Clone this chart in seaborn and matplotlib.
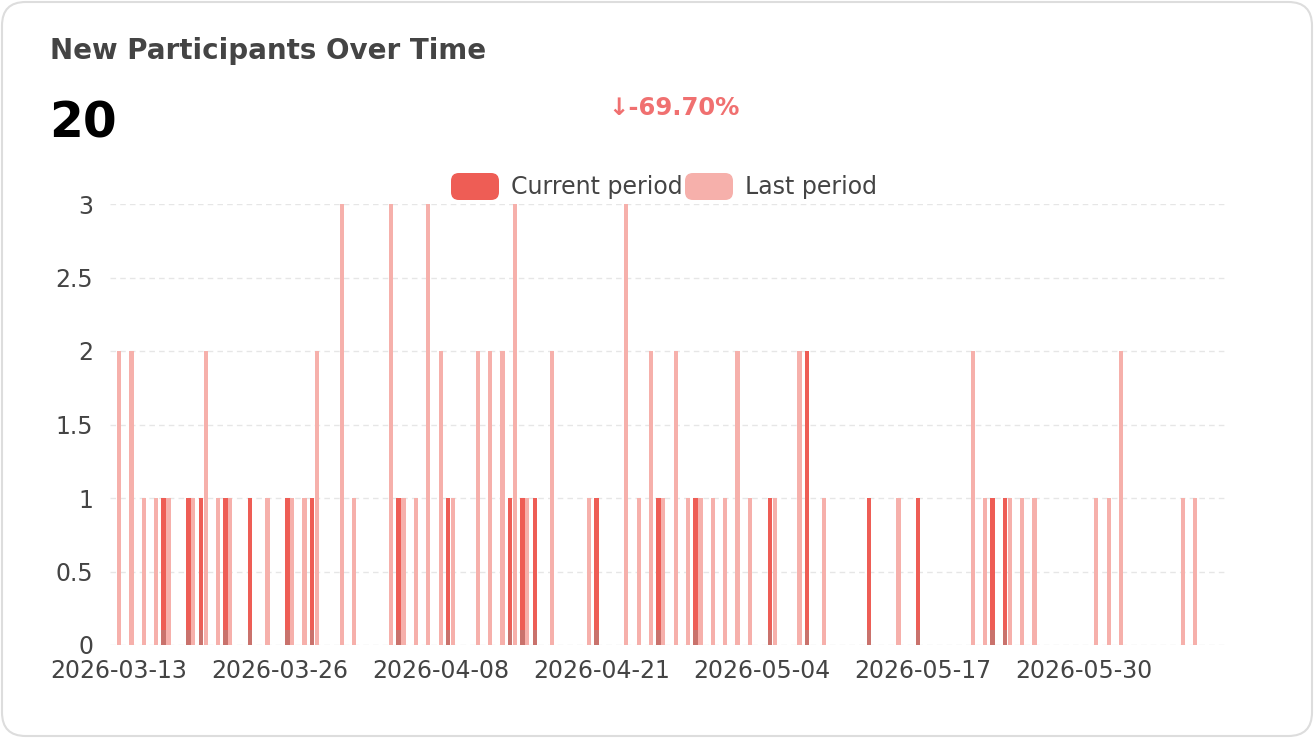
import pandas as pd
import matplotlib.pyplot as plt
import seaborn as sns
from matplotlib.patches import FancyBboxPatch

# Last period: daily counts
last_dates = ['2026-03-13', '2026-03-14', '2026-03-15', '2026-03-16', '2026-03-17', '2026-03-19',
              '2026-03-20', '2026-03-21', '2026-03-22', '2026-03-25', '2026-03-27', '2026-03-28',
              '2026-03-29', '2026-03-31', '2026-04-01', '2026-04-04', '2026-04-05', '2026-04-06',
              '2026-04-07', '2026-04-08', '2026-04-09', '2026-04-11', '2026-04-12', '2026-04-13',
              '2026-04-14', '2026-04-15', '2026-04-17', '2026-04-20', '2026-04-23', '2026-04-24',
              '2026-04-25', '2026-04-26', '2026-04-27', '2026-04-28', '2026-04-29', '2026-04-30',
              '2026-05-01', '2026-05-02', '2026-05-03', '2026-05-05', '2026-05-07', '2026-05-09',
              '2026-05-15', '2026-05-21', '2026-05-22', '2026-05-24', '2026-05-25', '2026-05-26',
              '2026-05-31', '2026-06-01', '2026-06-02', '2026-06-07', '2026-06-08']
last_values = [2, 2, 1, 1, 1, 1,
               2, 1, 1, 1, 1, 1,
               2, 3, 1, 3, 1, 1,
               3, 2, 1, 2, 2, 2,
               3, 1, 2, 1, 3, 1,
               2, 1, 2, 1, 1, 1,
               1, 2, 1, 1, 2, 1,
               1, 2, 1, 1, 1, 1,
               1, 1, 2, 1, 1]

# Current period: timestamps fall mid-afternoon
current_dates = ['2026-03-16 14:30', '2026-03-18 14:30', '2026-03-19 14:30', '2026-03-21 14:30',
                 '2026-03-23 14:30', '2026-03-26 14:30', '2026-03-28 14:30', '2026-04-04 14:30',
                 '2026-04-08 14:30', '2026-04-13 14:30', '2026-04-14 14:30', '2026-04-15 14:30',
                 '2026-04-20 14:30', '2026-04-25 14:30', '2026-04-28 14:30', '2026-05-04 14:30',
                 '2026-05-07 14:30', '2026-05-12 14:30', '2026-05-16 14:30', '2026-05-22 14:30',
                 '2026-05-23 14:30']
current_values = [1, 1, 1, 1,
                  1, 1, 1, 1,
                  1, 1, 1, 1,
                  1, 1, 1, 1,
                  2, 1, 1, 1,
                  1]

tick_dates = ['2026-03-13', '2026-03-26', '2026-04-08', '2026-04-21',
              '2026-05-04', '2026-05-17', '2026-05-30']

total_current = '20'
change_label = '\u2193-69.70%'

start = pd.Timestamp('2026-03-13')
def day_offset(dates):
    return (pd.to_datetime(pd.Series(dates)) - start) / pd.Timedelta(days=1)

last_df = pd.DataFrame({'day': day_offset(last_dates), 'count': last_values})
cur_df = pd.DataFrame({'day': day_offset(current_dates), 'count': current_values})

RED = '#ee5d55'
PINK = '#f6b0ab'
TXT = '#444444'

sns.set_theme(style='white')
plt.rcParams['font.family'] = ['DejaVu Sans']

fig = plt.figure(figsize=(13.14, 7.38), dpi=100)
fig.patch.set_facecolor('white')

# card border (drawn behind the axes)
card = FancyBboxPatch((2 / 1314, 2 / 738), 1310 / 1314, 734 / 738,
                      boxstyle='round,pad=0,rounding_size=0.018',
                      transform=fig.transFigure, facecolor='none',
                      edgecolor='#dddddd', linewidth=1.5, mutation_aspect=1314 / 738,
                      zorder=-1)
fig.patches.append(card)

ax = fig.add_axes([110 / 1314, 1 - 645 / 738, 1115 / 1314, 441 / 738])
ax.set_facecolor('none')

sns.barplot(data=cur_df, x='day', y='count', native_scale=True, color=RED,
            saturation=1, width=0.36, linewidth=0, ax=ax, zorder=3)
# darker base on current-period bars
sns.barplot(x=cur_df['day'], y=[0.1] * len(cur_df), native_scale=True, color='#c9726c',
            saturation=1, width=0.36, linewidth=0, ax=ax, zorder=4)
sns.barplot(data=last_df, x='day', y='count', native_scale=True, color=PINK,
            saturation=1, width=0.34, linewidth=0, ax=ax, zorder=3)

ax.set_xlim(-0.73, 89.4)
ax.set_ylim(0, 3)
ax.set_yticks([0, 0.5, 1, 1.5, 2, 2.5, 3])
ax.set_yticklabels(['0', '0.5', '1', '1.5', '2', '2.5', '3'])
ax.set_xticks(day_offset(tick_dates).tolist())
ax.set_xticklabels(tick_dates)
ax.set_xlabel('')
ax.set_ylabel('')
ax.grid(axis='y', color='#e6e6e6', linestyle=(0, (4, 3)), linewidth=1, zorder=0)
ax.grid(axis='x', visible=False)
for s in ax.spines.values():
    s.set_visible(False)
ax.tick_params(axis='y', length=0, pad=12, labelsize=17, labelcolor=TXT)
ax.tick_params(axis='x', length=0, pad=10, labelsize=17, labelcolor=TXT)

# header texts
fig.text(50 / 1314, 1 - 51 / 738, 'New Participants Over Time', fontsize=20,
         fontweight='bold', color=TXT, va='center', ha='left')
fig.text(49 / 1314, 1 - 123 / 738, total_current, fontsize=35, fontweight='bold',
         color='black', va='center', ha='left')
fig.text(674 / 1314, 1 - 108 / 738, change_label, fontsize=17.5, fontweight='bold',
         color='#f07070', va='center', ha='center')

# legend
for x0, col, label in [(451, RED, 'Current period'), (685, PINK, 'Last period')]:
    box = FancyBboxPatch((x0 / 1314, 1 - 200 / 738), 48 / 1314, 27 / 738,
                         boxstyle='round,pad=0,rounding_size=0.006',
                         transform=fig.transFigure, facecolor=col, edgecolor='none',
                         mutation_aspect=1314 / 738)
    fig.patches.append(box)
    fig.text((x0 + 60) / 1314, 1 - 187 / 738, label, fontsize=17, color=TXT,
             va='center', ha='left')

fig.savefig('out.png', dpi=100, facecolor='white')
